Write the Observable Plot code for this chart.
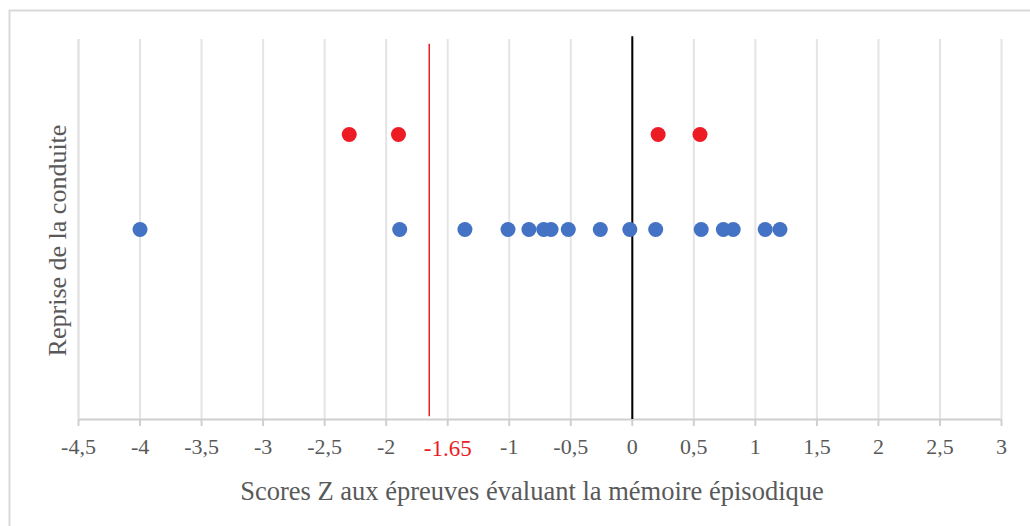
<!DOCTYPE html>
<html>
<head>
<meta charset="utf-8">
<script src="https://cdn.jsdelivr.net/npm/d3@7"></script>
<script src="https://cdn.jsdelivr.net/npm/@observablehq/plot@0.6"></script>
<style>
  html, body { margin: 0; padding: 0; background: #fff; }
  #chart svg { display: block; }
</style>
</head>
<body>
<div id="chart"></div>
<script>
// Data
const redScores = [-2.30, -1.90, 0.21, 0.55];          // row at level 3
const blueScores = [-4.00, -1.89, -1.36, -1.01, -0.84, -0.72, -0.66, -0.52, -0.26, -0.02, 0.19, 0.56, 0.74, 0.82, 1.08, 1.20]; // row at level 2
const redLevel = 3;
const blueLevel = 2;
const xTicks = [-4.5, -4, -3.5, -3, -2.5, -2, -1.5, -1, -0.5, 0, 0.5, 1, 1.5, 2, 2.5, 3];
const threshold = -1.65;
const thresholdLabel = "-1.65";
const hiddenTick = -1.5;
const xTitle = "Scores Z aux épreuves évaluant la mémoire épisodique";
const yTitle = "Reprise de la conduite";

const font = "'Liberation Serif', 'Times New Roman', serif";
const redData = redScores.map(x => ({x, y: redLevel}));
const blueData = blueScores.map(x => ({x, y: blueLevel}));

const chart = Plot.plot({
  width: 1030,
  height: 526,
  marginLeft: 78,
  marginRight: 29,
  marginTop: 39,
  marginBottom: 107,
  style: {fontFamily: font, background: "#fff"},
  x: {domain: [-4.5, 3]},
  y: {domain: [0, 4], axis: null},
  marks: [
    Plot.ruleX(xTicks, {stroke: "#e4e4e4", strokeWidth: 2}),
    Plot.ruleY([0], {x1: -4.5, x2: 3, stroke: "#cfcfcf", strokeWidth: 2}),
    Plot.ruleX([-4.5], {y1: 0, y2: 4, stroke: "#e4e4e4", strokeWidth: 2}),
    Plot.axisX({
      ticks: xTicks,
      tickFormat: d => d === hiddenTick ? "" : String(d).replace(".", ","),
      tickSize: 7,
      tickPadding: 12,
      stroke: "#cfcfcf",
      strokeWidth: 2,
      fill: "#595959",
      fontSize: 22,
      fontFamily: font,
      label: null
    }),
    Plot.text([thresholdLabel], {x: hiddenTick, frameAnchor: "bottom", dy: 29, fill: "#ed1c24", fontSize: 23, fontFamily: font, lineAnchor: "middle"}),
    Plot.ruleX([threshold], {y1: 0.03, y2: 3.95, stroke: "#ed1c24", strokeWidth: 1.5}),
    Plot.ruleX([0], {y1: 0, y2: 4.03, stroke: "#000", strokeWidth: 2}),
    Plot.dot(redData, {x: "x", y: "y", r: 7.5, fill: "#ed1c24", stroke: null}),
    Plot.dot(blueData, {x: "x", y: "y", r: 7.5, fill: "#4472c4", stroke: null}),
    Plot.text([xTitle], {frameAnchor: "bottom", dy: 72, dx: -8, fill: "#595959", fontSize: 26.5, fontFamily: font, lineAnchor: "middle", textAnchor: "middle"}),
    Plot.text([yTitle], {frameAnchor: "left", dx: -21, dy: 11, rotate: -90, fill: "#595959", fontSize: 26, fontFamily: font, lineAnchor: "middle", textAnchor: "middle"})
  ]
});

d3.select(chart).insert("rect", ":first-child")
  .attr("x", 9.5).attr("y", 10.5)
  .attr("width", 1040).attr("height", 540)
  .attr("fill", "none").attr("stroke", "#d9d9d9").attr("stroke-width", 2);

document.getElementById("chart").appendChild(chart);
</script>
</body>
</html>
